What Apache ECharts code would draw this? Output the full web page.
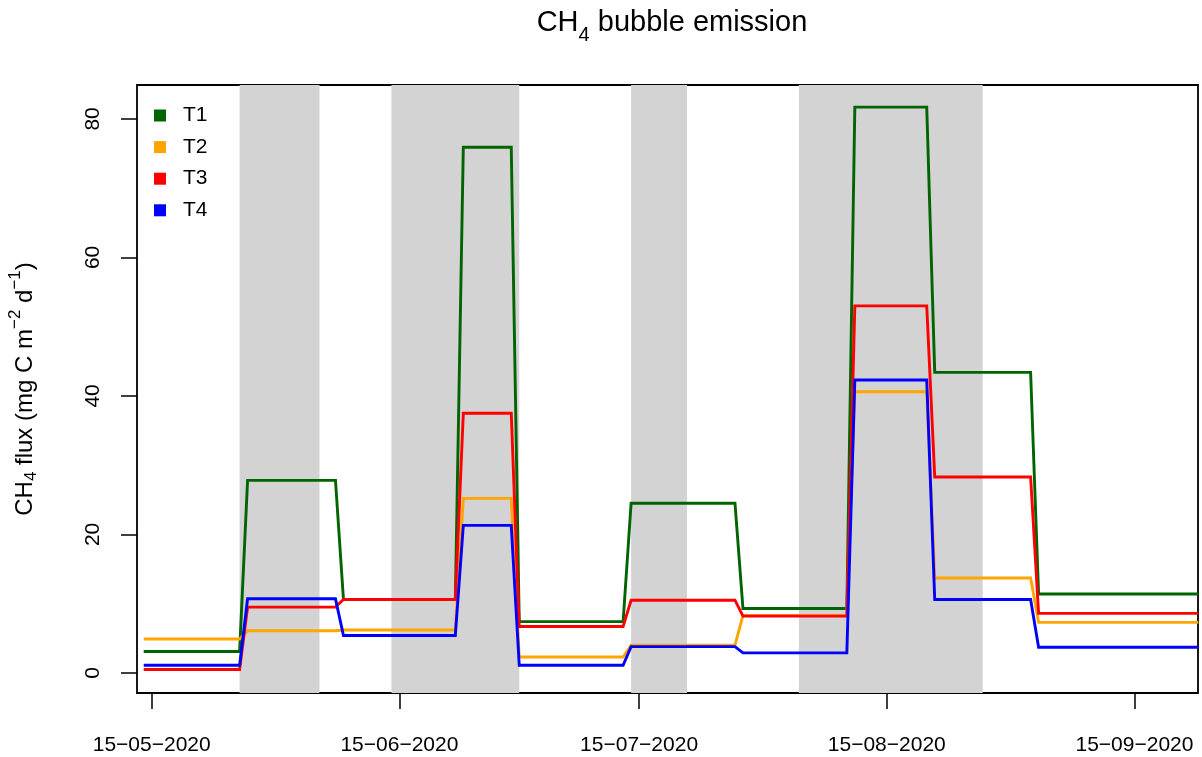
<!DOCTYPE html>
<html>
<head>
<meta charset="utf-8">
<script src="https://cdn.jsdelivr.net/npm/echarts@6/dist/echarts.min.js"></script>
<style>
html,body{margin:0;padding:0;background:#fff;}
#chart{width:1202px;height:757px;}
</style>
</head>
<body>
<div id="chart"></div>
<script>
// ---- data ----
var seriesNames = ['T1', 'T2', 'T3', 'T4'];
var seriesColors = ['#006400', '#FFA500', '#FF0000', '#0000FF'];
// each measurement period: [start date, end date]
var periodStart = ['2020-05-14','2020-05-27','2020-06-08','2020-06-23','2020-06-30','2020-07-14','2020-07-28','2020-08-11','2020-08-21','2020-09-03'];
var periodEnd   = ['2020-05-26','2020-06-07','2020-06-22','2020-06-29','2020-07-13','2020-07-27','2020-08-10','2020-08-20','2020-09-02','2020-09-23'];
var T1 = [3.1, 27.8, 10.6, 75.9, 7.4, 24.5, 9.3, 81.7, 43.4, 11.4];
var T2 = [4.9, 6.1, 6.2, 25.2, 2.3, 4.0, 8.3, 40.6, 13.7, 7.3];
var T3 = [0.5, 9.5, 10.6, 37.5, 6.7, 10.5, 8.2, 53.0, 28.3, 8.6];
var T4 = [1.1, 10.7, 5.4, 21.3, 1.1, 3.8, 2.9, 42.3, 10.6, 3.7];
// shaded periods
var bandStart = ['2020-05-26','2020-06-14','2020-07-14','2020-08-04'];
var bandEnd   = ['2020-06-05','2020-06-30','2020-07-21','2020-08-27'];
// axis ticks
var xTickDates  = ['2020-05-15','2020-06-15','2020-07-15','2020-08-15','2020-09-15'];
var xTickLabels = ['15-05-2020','15-06-2020','15-07-2020','15-08-2020','15-09-2020'];
var yTicks = [0, 20, 40, 60, 80];

// ---- helpers ----
function dayOf(s) {
  var p = s.split('-');
  return (Date.UTC(+p[0], +p[1]-1, +p[2]) - Date.UTC(2020, 4, 15)) / 864e5;
}
function buildLine(vals) {
  var pts = [];
  for (var i = 0; i < vals.length; i++) {
    pts.push([dayOf(periodStart[i]), vals[i]]);
    pts.push([dayOf(periodEnd[i]), vals[i]]);
  }
  return pts;
}
var allVals = [T1, T2, T3, T4];
var xTickDays = xTickDates.map(dayOf);
var labelByDay = {};
xTickDays.forEach(function (d, i) { labelByDay[d] = xTickLabels[i].replace(/-/g, '\u2212'); });

var FONT = 'Liberation Sans, Arial, Helvetica, sans-serif';

var series = [{
  name: 'bands', type: 'line', data: [], z: 1, silent: true,
  markArea: {
    silent: true,
    itemStyle: { color: '#D3D3D3', opacity: 1 },
    data: bandStart.map(function (s, i) { return [{ xAxis: dayOf(s) }, { xAxis: dayOf(bandEnd[i]) }]; })
  }
}];
seriesNames.forEach(function (n, i) {
  series.push({
    name: n, type: 'line', z: 2 + i,
    data: buildLine(allVals[i]),
    symbol: 'none', clip: true,
    lineStyle: { color: seriesColors[i], width: 2.9, join: 'miter' },
    itemStyle: { color: seriesColors[i] }
  });
});

var chart = echarts.init(document.getElementById('chart'), null, { renderer: 'canvas' });
chart.setOption({
  animation: false,
  backgroundColor: '#fff',
  textStyle: { fontFamily: FONT },
  title: {
    text: '{t|CH}{s|4}{t| bubble emission}',
    left: 667, top: 3, textAlign: 'center',
    textStyle: {
      fontFamily: FONT, fontWeight: 'normal',
      rich: {
        t: { fontSize: 29, lineHeight: 29, color: '#000', fontFamily: FONT, fontWeight: 'normal', verticalAlign: 'top' },
        s: { fontSize: 20, lineHeight: 20, color: '#000', fontFamily: FONT, fontWeight: 'normal', verticalAlign: 'top', padding: [17, 0, 0, 0] }
      }
    }
  },
  legend: {
    data: seriesNames,
    orient: 'vertical',
    left: 154, top: 105,
    padding: 0,
    itemGap: 10.6,
    itemWidth: 12, itemHeight: 12,
    icon: 'rect',
    selectedMode: false,
    textStyle: { fontSize: 21, lineHeight: 20, color: '#000', fontFamily: FONT, padding: [0, 0, 0, 12] }
  },
  grid: {
    left: 137, right: 4, top: 85, bottom: 64,
    containLabel: false,
    outerBoundsMode: 'none',
    show: true, borderColor: '#000', borderWidth: 1.8, backgroundColor: 'transparent'
  },
  xAxis: {
    type: 'value',
    min: -1.84, max: 130.95,
    axisLine: { show: false, onZero: false },
    splitLine: { show: false },
    axisTick: { show: true, inside: false, customValues: xTickDays, length: 16, lineStyle: { color: '#000', width: 1.5 } },
    axisLabel: {
      customValues: xTickDays, margin: 42, fontSize: 21, color: '#000', fontFamily: FONT,
      formatter: function (v) { return labelByDay[v] || ''; }
    }
  },
  yAxis: {
    type: 'value',
    min: -2.9, max: 84.9,
    name: '{t|CH}{s|4}{t| flux (mg C m}{p|\u22122}{t| d}{p|\u22121}{t|)}',
    nameLocation: 'middle',
    nameGap: 100,
    nameRotate: 90,
    nameTextStyle: {
      fontFamily: FONT,
      rich: {
        t: { fontSize: 24, lineHeight: 32, color: '#000', fontFamily: FONT, verticalAlign: 'top', padding: [8, 0, 0, 0] },
        s: { fontSize: 17, lineHeight: 17, color: '#000', fontFamily: FONT, verticalAlign: 'top', padding: [18, 0, 0, 0] },
        p: { fontSize: 17, lineHeight: 17, color: '#000', fontFamily: FONT, verticalAlign: 'top', padding: [2, 0, 0, 0] }
      }
    },
    axisLine: { show: false, onZero: false },
    splitLine: { show: false },
    axisTick: { show: true, inside: false, customValues: yTicks, length: 16, lineStyle: { color: '#000', width: 1.5 } },
    axisLabel: { customValues: yTicks, rotate: 90, margin: 33, fontSize: 21, color: '#000', fontFamily: FONT }
  },
  series: series
});
</script>
</body>
</html>
